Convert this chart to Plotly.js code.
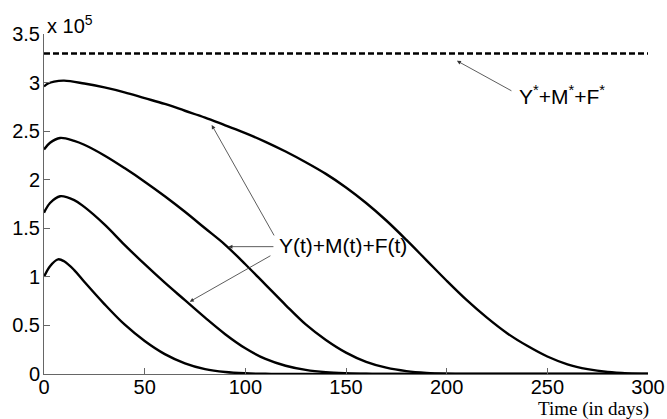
<!DOCTYPE html>
<html>
<head>
<meta charset="utf-8">
<script src="https://cdn.plot.ly/plotly-3.0.1.min.js"></script>
<style>html,body{margin:0;padding:0;background:#fff;}#chart{width:667px;height:419px;}</style>
</head>
<body>
<div id="chart"></div>
<script>
// values in units of 10^5
const t1 = [0,2,5,10,20,30,40,50,60,70,80,90,100,110,120,130,140,150,160,170,180,190,200,210,220,230,240,250,260,270,280,290,300];
const v1 = [2.96,2.99,3.01,3.02,2.99,2.95,2.90,2.84,2.78,2.71,2.64,2.56,2.48,2.39,2.29,2.18,2.06,1.92,1.76,1.58,1.38,1.17,0.96,0.76,0.58,0.42,0.29,0.18,0.10,0.05,0.02,0.006,0.001];
const t2 = [0,3,8,15,20,30,40,50,60,70,80,90,100,110,120,130,140,150,160,170,180,190,200,210,300];
const v2 = [2.31,2.38,2.43,2.40,2.36,2.25,2.12,1.98,1.83,1.67,1.50,1.33,1.13,0.92,0.71,0.51,0.35,0.22,0.125,0.065,0.03,0.012,0.004,0.001,0];
const t3 = [0,3,8,15,20,30,40,50,60,70,80,90,100,110,120,130,140,150,160,170,300];
const v3 = [1.66,1.76,1.83,1.79,1.72,1.54,1.33,1.13,0.94,0.76,0.58,0.41,0.265,0.155,0.085,0.042,0.018,0.007,0.002,0,0];
const t4 = [0,3,7,10,15,20,30,40,50,60,70,80,90,100,110,120,300];
const v4 = [1.00,1.11,1.18,1.16,1.07,0.95,0.72,0.51,0.34,0.205,0.11,0.05,0.02,0.007,0.002,0,0];
const eqT = [0,300];
const eqV = [3.3,3.3];
const xTicks = [0,50,100,150,200,250,300];
const yTicks = [0,0.5,1,1.5,2,2.5,3,3.5];
const yTickText = ['0','0.5','1','1.5','2','2.5','3','3.5'];

const curveLine = {color:'#000', width:2.4, shape:'spline', smoothing:1};
const traces = [
  {x:t1, y:v1, mode:'lines', line:curveLine, hoverinfo:'skip'},
  {x:t2, y:v2, mode:'lines', line:curveLine, hoverinfo:'skip'},
  {x:t3, y:v3, mode:'lines', line:curveLine, hoverinfo:'skip'},
  {x:t4, y:v4, mode:'lines', line:curveLine, hoverinfo:'skip'},
  {x:eqT, y:eqV, mode:'lines', line:{color:'#000', width:2.4, dash:'6px,3px'}, hoverinfo:'skip'}
];

const font = {family:'Liberation Sans, Arial, sans-serif', size:20, color:'#000'};
const textFont = {family:'Liberation Sans, Arial, sans-serif', size:21, color:'#000'};
const arrowBase = {showarrow:true, arrowhead:2, arrowsize:1, arrowwidth:0.8, arrowcolor:'#333',
  axref:'x', ayref:'y', xref:'x', yref:'y', text:'', standoff:0, startstandoff:0};

const layout = {
  width:667, height:419,
  margin:{l:44, r:19, t:34, b:45},
  paper_bgcolor:'#fff', plot_bgcolor:'#fff',
  showlegend:false,
  font:font,
  xaxis:{range:[0,300], tickvals:xTicks, ticks:'inside', ticklen:6, tickcolor:'#666',
    showline:true, linecolor:'#666', linewidth:1, showgrid:false, zeroline:false, tickfont:font,
    ticklabelstandoff:-5},
  yaxis:{range:[0,3.5], tickvals:yTicks, ticktext:yTickText, ticks:'inside', ticklen:6, tickcolor:'#666',
    showline:true, linecolor:'#666', linewidth:1, showgrid:false, zeroline:false, tickfont:font,
    ticklabelstandoff:-1},
  annotations:[
    Object.assign({}, arrowBase, {x:83.3, y:2.564, ax:114.7, ay:1.411}),
    Object.assign({}, arrowBase, {x:91.6, y:1.311, ax:114.7, ay:1.311}),
    Object.assign({}, arrowBase, {x:72.4, y:0.745, ax:113.2, ay:1.226}),
    Object.assign({}, arrowBase, {x:205.1, y:3.224, ax:232.9, ay:2.907}),
    {x:115.7, y:1.318, xref:'x', yref:'y', text:'Y(t)+M(t)+F(t)', showarrow:false,
      xanchor:'left', yanchor:'middle', font:textFont},
    {x:234.8, y:2.87, xref:'x', yref:'y', text:'Y<sup>*</sup>+M<sup>*</sup>+F<sup>*</sup>', showarrow:false,
      xanchor:'left', yanchor:'middle', font:textFont},
    {x:(45-44)/604, y:(374-24)/340, xref:'paper', yref:'paper', text:'x 10<sup>5</sup>', showarrow:false,
      xanchor:'left', yanchor:'middle', font:font},
    {x:(651-44)/604, y:(374-409)/340, xref:'paper', yref:'paper', text:'Time (in days)', showarrow:false,
      xanchor:'right', yanchor:'middle', font:{family:'Liberation Serif, Times New Roman, serif', size:19, color:'#000'}}
  ]
};

Plotly.newPlot('chart', traces, layout, {displayModeBar:false, staticPlot:true});
</script>
</body>
</html>
